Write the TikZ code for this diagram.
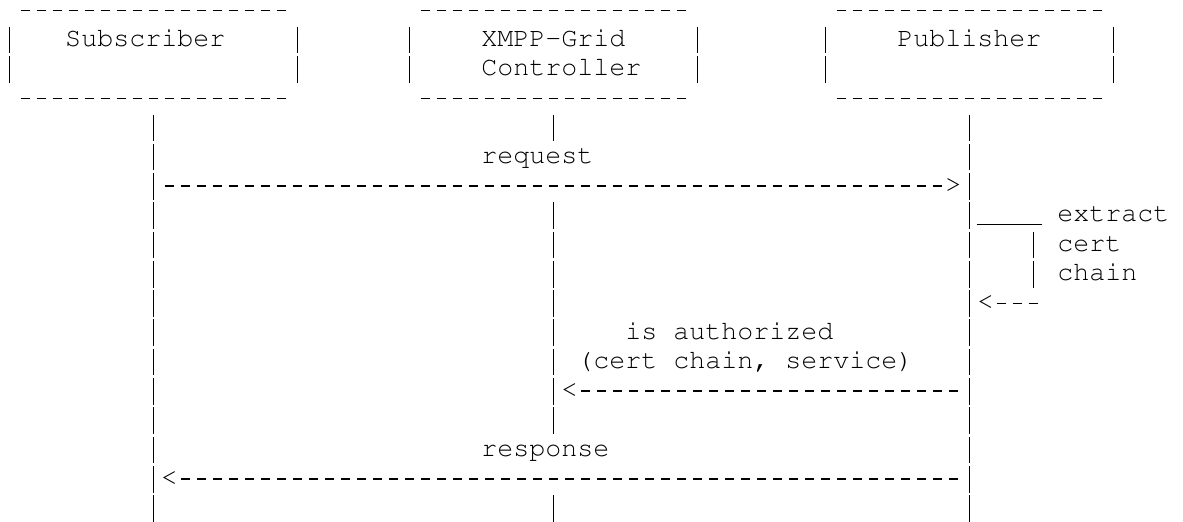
\documentclass[tikz,border=0pt]{standalone}
\usepackage[T1,TU]{fontenc}

% Courier on a 16pt x 29.28pt character grid
\newcommand\courtt{\fontencoding{T1}\fontfamily{pcr}\fontsize{26.67pt}{29.28pt}\selectfont}
\tikzset{
  cour/.style={font=\courtt, inner sep=0pt, outer sep=0pt, anchor=base west},
  hyph/.style={line width=1.4pt, dash pattern=on 8.6pt off 7.4pt},
  bars/.style={line width=1.4pt, dash pattern=on 26.67pt off 2.61pt},
  undl/.style={line width=1.35pt}
}

\begin{document}
\begin{tikzpicture}[x=16pt, y=-29.28pt]
\useasboundingbox (-0.078,0) rectangle (73.86,17.828);

% participant boxes
\foreach \l in {0,25,51} {
  \draw[hyph] (\l+1.23,0.359) -- (\l+17.77,0.359);
  \draw[hyph] (\l+1.23,3.359) -- (\l+17.77,3.359);
  \draw[bars] (\l+0.5,0.911) -- (\l+0.5,2.822);
  \draw[bars] (\l+18.5,0.911) -- (\l+18.5,2.822);
}
\node[cour] (sub) at (4,1.58) {Subscriber};
\node[cour] (ctl) at (30,1.58) {XMPP-Grid};
\node[cour] (ctl2) at (30,2.58) {Controller};
\node[cour] (pub) at (56,1.58) {Publisher};

% lifelines
\coordinate (sub-top) at (9.5,3.911);
\coordinate (sub-end) at (9.5,17.822);
\coordinate (pub-top) at (60.5,3.911);
\coordinate (pub-end) at (60.5,17.822);
\draw[bars] (sub-top) -- (sub-end);
\draw[bars] (pub-top) -- (pub-end);
\draw[bars] (34.5,3.911) -- (34.5,4.822);
\draw[bars] (34.5,6.911) -- (34.5,14.822);
\draw[bars] (34.5,16.911) -- (34.5,17.822);

% request
\node[cour] (req) at (30,5.58) {request};
\node[cour] (req-tip) at (59,6.58) {>};
\coordinate (req-a) at (10.23,6.359);
\coordinate (req-b) at (58.77,6.359);
\draw[hyph] (req-a) -- (req-b);

% extract cert chain
\coordinate (ext-a) at (60.955,7.671);
\coordinate (ext-b) at (65.045,7.671);
\draw[undl] (ext-a) -- (ext-b);
\draw[bars] (64.5,7.911) -- (64.5,9.822);
\node[cour] (ext) at (66,7.58) {extract};
\node[cour] (ext2) at (66,8.58) {cert};
\node[cour] (ext3) at (66,9.58) {chain};
\node[cour] (ext-tip) at (61,10.58) {<};
\coordinate (ret-a) at (62.23,10.359);
\coordinate (ret-b) at (64.77,10.359);
\draw[hyph] (ret-a) -- (ret-b);

% is authorized
\node[cour] (auth) at (39,11.58) {is authorized};
\node[cour] (auth2) at (36,12.58) {(cert chain, service)};
\node[cour] (auth-tip) at (35,13.58) {<};
\coordinate (auth-a) at (36.23,13.359);
\coordinate (auth-b) at (59.77,13.359);
\draw[hyph] (auth-a) -- (auth-b);

% response
\node[cour] (resp) at (30,15.58) {response};
\node[cour] (resp-tip) at (10,16.58) {<};
\coordinate (resp-a) at (11.23,16.359);
\coordinate (resp-b) at (59.77,16.359);
\draw[hyph] (resp-a) -- (resp-b);
\end{tikzpicture}
\end{document}
